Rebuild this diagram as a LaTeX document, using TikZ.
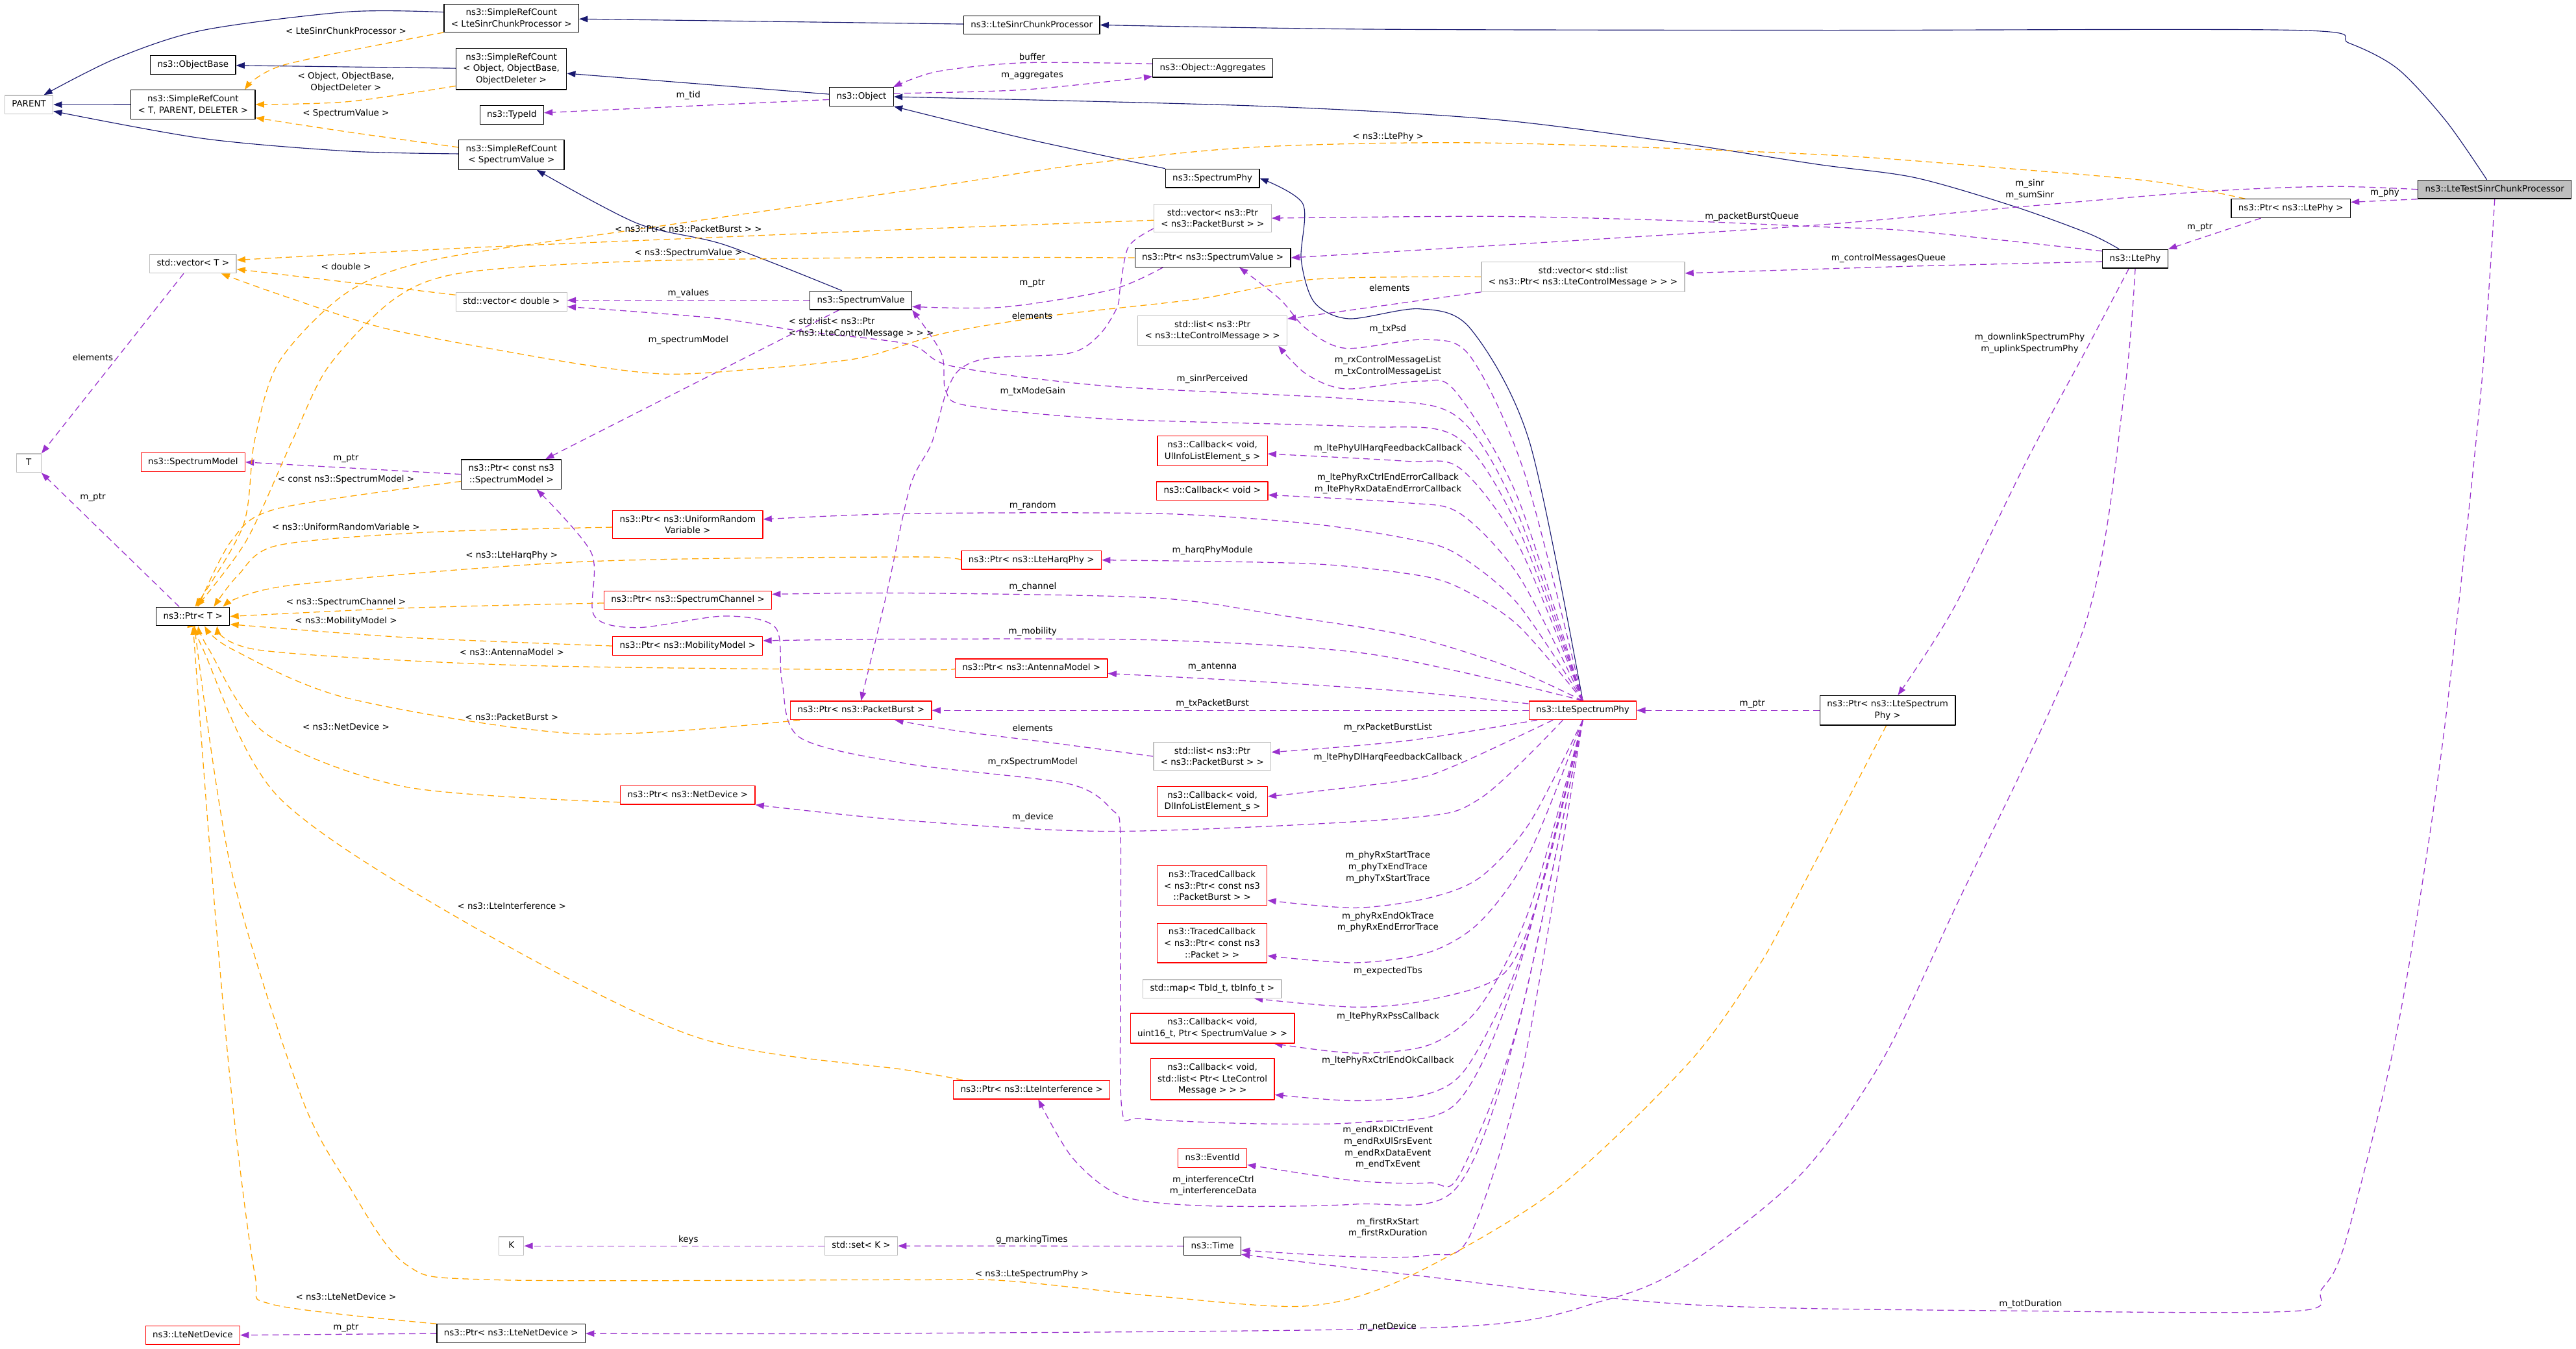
\documentclass[tikz,border=0pt]{standalone}
\usepackage{fontspec}
\setmainfont{DejaVu Sans}
\usetikzlibrary{arrows.meta}
\definecolor{inhblue}{HTML}{191970}
\definecolor{usepurple}{HTML}{9A32CD}
\definecolor{tplorange}{HTML}{FFA500}
\definecolor{extgray}{HTML}{BFBFBF}
\pgfdeclarelayer{edges}
\pgfsetlayers{edges,main}

\begin{document}
\begin{tikzpicture}[x=1mm,y=-1mm,>={Triangle[length=5.2mm,width=3.8mm]},
  font=\fontsize{15.1}{19.9}\selectfont,line join=round,
  box/.style={rectangle,fill=white,line width=0.5mm,inner xsep=4.3mm,inner ysep=2.95mm,align=center},
  one/.style={text height=4.1mm,text depth=1.3mm},
  doc/.style={box,draw=black},
  ext/.style={box,draw=extgray},
  trunc/.style={box,draw=red},
  focus/.style={box,draw=black,fill=extgray},
  inh/.style={->,draw=inhblue,line width=0.45mm},
  use/.style={->,draw=usepurple,line width=0.5mm,dash pattern=on 3.9mm off 2.5mm},
  tpl/.style={->,draw=tplorange,line width=0.5mm,dash pattern=on 3.9mm off 2.5mm},
  lbl/.style={inner sep=0pt,align=center}]
\useasboundingbox (0,0) rectangle (1568,821);

% classes
\node[ext,one] (parent) at (17.6,63.7) {PARENT};
\node[doc] (srcTPD) at (117.5,63.6) {ns3::SimpleRefCount\\< T, PARENT, DELETER >};
\node[doc,one] (objBase) at (117.5,39.5) {ns3::ObjectBase};
\node[ext,one] (vecT) at (117.5,160.6) {std::vector< T >};
\node[ext,one,minimum width=15mm] (tT) at (17.5,281.9) {T};
\node[trunc,one] (specModel) at (117.5,281.3) {ns3::SpectrumModel};
\node[doc,one] (ptrT) at (117.5,375.2) {ns3::Ptr< T >};
\node[trunc,one] (lteND) at (117.3,812.7) {ns3::LteNetDevice};
\node[doc] (srcLSCP) at (311.3,11) {ns3::SimpleRefCount\\< LteSinrChunkProcessor >};
\node[doc] (srcObj) at (311.2,42) {ns3::SimpleRefCount\\< Object, ObjectBase,\\ObjectDeleter >};
\node[doc,one] (typeId) at (311.5,70) {ns3::TypeId};
\node[doc] (srcSV) at (311.3,94.2) {ns3::SimpleRefCount\\< SpectrumValue >};
\node[ext,one] (vecDbl) at (311.3,183.7) {std::vector< double >};
\node[doc] (ptrSM) at (311.3,288.7) {ns3::Ptr< const ns3\\::SpectrumModel >};
\node[ext,one,minimum width=15mm] (kK) at (311.3,758.4) {K};
\node[doc,one] (ptrLND) at (311.1,811.7) {ns3::Ptr< ns3::LteNetDevice >};
\node[trunc] (ptrURV) at (418.6,319.3) {ns3::Ptr< ns3::UniformRandom\\Variable >};
\node[trunc,one] (ptrChan) at (418.7,365.3) {ns3::Ptr< ns3::SpectrumChannel >};
\node[trunc,one] (ptrMob) at (418.6,393.2) {ns3::Ptr< ns3::MobilityModel >};
\node[trunc,one] (ptrND) at (418.6,484) {ns3::Ptr< ns3::NetDevice >};
\node[doc,one] (obj) at (524.4,58.9) {ns3::Object};
\node[doc,one] (specVal) at (524,182.8) {ns3::SpectrumValue};
\node[trunc,one] (ptrPB) at (524.1,432.4) {ns3::Ptr< ns3::PacketBurst >};
\node[ext,one] (setK) at (524.2,758.4) {std::set< K >};
\node[doc,one] (lscp) at (628,15.2) {ns3::LteSinrChunkProcessor};
\node[trunc,one] (ptrHarq) at (627.8,340.9) {ns3::Ptr< ns3::LteHarqPhy >};
\node[trunc,one] (ptrAnt) at (627.8,406.7) {ns3::Ptr< ns3::AntennaModel >};
\node[trunc,one] (ptrIntf) at (628,663.3) {ns3::Ptr< ns3::LteInterference >};
\node[doc,one] (aggr) at (738.2,41.4) {ns3::Object::Aggregates};
\node[doc,one] (specPhy) at (738,108.5) {ns3::SpectrumPhy};
\node[ext] (vecPB) at (738.1,132.8) {std::vector< ns3::Ptr\\< ns3::PacketBurst > >};
\node[doc,one] (ptrSV) at (738.2,156.9) {ns3::Ptr< ns3::SpectrumValue >};
\node[ext] (lstLCM) at (738,201.3) {std::list< ns3::Ptr\\< ns3::LteControlMessage > >};
\node[trunc] (cbUl) at (738,274.5) {ns3::Callback< void,\\UlInfoListElement\_s >};
\node[trunc,one] (cbVoid) at (737.9,298.9) {ns3::Callback< void >};
\node[ext] (lstPB) at (737.9,460.4) {std::list< ns3::Ptr\\< ns3::PacketBurst > >};
\node[trunc] (cbDl) at (738,487.8) {ns3::Callback< void,\\DlInfoListElement\_s >};
\node[trunc] (tcPB) at (737.8,539) {ns3::TracedCallback\\< ns3::Ptr< const ns3\\::PacketBurst > >};
\node[trunc] (tcPkt) at (737.8,574) {ns3::TracedCallback\\< ns3::Ptr< const ns3\\::Packet > >};
\node[ext,one] (mapTb) at (737.9,601.9) {std::map< TbId\_t, tbInfo\_t >};
\node[trunc] (cbPss) at (738,625.9) {ns3::Callback< void,\\uint16\_t, Ptr< SpectrumValue > >};
\node[trunc] (cbCtrl) at (738,656.9) {ns3::Callback< void,\\std::list< Ptr< LteControl\\Message > > >};
\node[trunc,one] (evId) at (738,704.9) {ns3::EventId};
\node[doc,one] (time) at (738,758.5) {ns3::Time};
\node[ext] (vecLst) at (963.6,168.5) {std::vector< std::list\\< ns3::Ptr< ns3::LteControlMessage > > >};
\node[trunc,one] (lsp) at (963.4,432.4) {ns3::LteSpectrumPhy};
\node[doc] (ptrLSP) at (1149,432.4) {ns3::Ptr< ns3::LteSpectrum\\Phy >};
\node[doc,one] (ltePhy) at (1299.7,157.5) {ns3::LtePhy};
\node[doc,one] (ptrLtePhy) at (1394.4,126.9) {ns3::Ptr< ns3::LtePhy >};
\node[focus,one] (ltscp) at (1518.5,115.3) {ns3::LteTestSinrChunkProcessor};

\begin{pgfonlayer}{edges}
% inheritance
\draw[inh] (srcTPD) -- (parent);
\draw[inh] plot[smooth] coordinates {(srcLSCP.175) (211.6,7.2) (123.5,18.4) (70.6,35.6) (parent.33)};
\draw[inh] plot[smooth] coordinates {(srcSV.179) (211.6,92) (123.5,84.3) (parent.-15)};
\draw[inh] (srcObj) -- (objBase);
\draw[inh] (lscp) -- (srcLSCP);
\draw[inh] (obj) -- (srcObj);
\draw[inh] plot[smooth] coordinates {(specVal.153) (441,149) (388,136) (srcSV.-31)};
\draw[inh] plot[smooth] coordinates {(ltscp.129) (1489,73.8) (1459.6,42) (1430,26.3) (1397.7,18.4) (1106,18.4) (835,17.8) (lscp.east)};
\draw[inh] plot[smooth] coordinates {(specPhy.north west) (623.7,84.3) (obj.south east)};
\draw[inh] plot[smooth] coordinates {(ltePhy.149) (1271,142) (1224,125) (1165,108) (1106,100) (1011.7,85.6) (906,72.4) (764.8,64.5) (obj.east)};
\draw[inh] plot[smooth] coordinates {(lsp.north) (931,269) (895,200) (864,188) (821,194) (800,184) (792,158) (793,124) (specPhy.east)};

% members
\draw[use] plot[smooth] coordinates {(aggr.176) (623.7,38.2) (570.7,43.5) (obj.17)};
\draw[use] plot[smooth] coordinates {(obj.6) (623.7,54.6) (aggr.188)};
\draw[use] (obj.185) -- (typeId.4);
\draw[use] (specVal.west) -- (specVal.west -| vecDbl.east);
\draw[use] (vecLst.south west) -- (lstLCM.9);
\draw[use] plot[smooth] coordinates {(vecPB.190) (687,150) (682,174) (680,187) (669,204) (651,215) (602,218) (584,225) (575.6,240) (567,270) (554,296) (540,360) (ptrPB.north)};
\draw[use] plot[smooth] coordinates {(lstPB.west) (643.8,452.6) (583.4,445) (ptrPB.-16)};
\draw[use] (specVal.-156) -- (ptrSM.24);
\draw[use] plot[smooth] coordinates {(ptrSV.-169) (676,176.5) (610,187) (specVal.-7)};
\draw[use] (ptrSM.west) -- (specModel.east);
\draw[use] (ptrT.145) -- (tT.south east);
\draw[use] (vecT.-134) -- (tT.north east);
\draw[use] (ptrLND.west) -- (lteND.east);
\draw[use] (setK.west) -- (kK.east);
\draw[use] (time.west) -- (setK.east);
\draw[use] (ptrLSP.west) -- (lsp.east);
\draw[use] (ltscp.south west) -- (ptrLtePhy.6);
\draw[use] (ptrLtePhy.-162) -- (ltePhy.north east);
\draw[use] plot[smooth] coordinates {(ltscp.west) (1418,113.5) (1341.8,116.6) (1224,126.4) (1106,137) (941,147.5) (ptrSV.east)};
\draw[use] plot[smooth] coordinates {(ltePhy.167) (1165,140.7) (1106,138) (1011.7,134) (906,131.7) (vecPB.east)};
\draw[use] plot[smooth] coordinates {(ltePhy.185) (1165,162) (vecLst.2)};
\draw[use] plot[smooth] coordinates {(ltePhy.-123) (1268.7,215) (1234,279.7) (1189,370.6) (ptrLSP.56)};
\draw[use] plot[smooth] coordinates {(ltePhy.south) (1293,239.5) (1269,380.6) (1189,555) (1144.8,647) (1096,715) (1027,770) (976,791.7) (885.7,807.6) (553,811.6) (ptrLND.east)};
\draw[use] plot[smooth] coordinates {(ltscp.south) (1510,239.5) (1489,434.6) (1472,553) (1455,647) (1427,758) (1413,785) (1398,798) (1236,798) (1027,794) (855.5,775.6) (time.-16)};
% LteSpectrumPhy members, upper fan
\draw[use] plot[smooth] coordinates {(lsp.north) (928,288.1) (895,217) (867.6,206.7) (819,212) (795,200) (779,182) (ptrSV.-20)};
\draw[use] plot[smooth] coordinates {(lsp.north) (923.4,301.9) (885.7,238) (864.5,232) (819,236.7) (795,227.6) (lstLCM.-13)};
\draw[use] plot[smooth] coordinates {(lsp.north) (923.5,311.8) (886,253) (825,243) (674,235) (580,223) (553,209.5) (487.6,201.5) (434.6,193.6) (vecDbl.-5)};
\draw[use] plot[smooth] coordinates {(lsp.north) (923.5,320.1) (886,265.6) (825,259.6) (674,255) (589.5,247) (575.7,238) (573,215) (specVal.south east)};
\draw[use] plot[smooth] coordinates {(lsp.north) (924.8,332.9) (888.6,285) (855.5,280.7) (cbUl.-3)};
\draw[use] plot[smooth] coordinates {(lsp.north) (924.8,351.1) (888.6,312.5) (855.5,306) (cbVoid.-4)};
\draw[use] plot[smooth] coordinates {(lsp.north) (923.4,367) (885.7,336.6) (855.5,327.6) (795,318.5) (704,312.6) (553,312.6) (ptrURV.4)};
\draw[use] plot[smooth] coordinates {(lsp.north) (923.4,380.1) (885.7,356.5) (855.5,349) (795,343) (ptrHarq.east)};
\draw[use] plot[smooth] coordinates {(lsp.north) (916,405) (855.5,386.7) (780,374.6) (704,364) (553,361) (ptrChan.4)};
\draw[use] plot[smooth] coordinates {(lsp.north) (916,415) (825.5,397) (704,389.6) (553,389) (ptrMob.4)};
\draw[use] plot[smooth] coordinates {(lsp.173) (855.5,420.8) (764.7,414.8) (ptrAnt.-4)};
\draw[use] (lsp.west) -- (ptrPB.east);
% LteSpectrumPhy members, lower fan
\draw[use] plot[smooth] coordinates {(lsp.-168) (855.5,451) (lstPB.4)};
\draw[use] plot[smooth] coordinates {(lsp.-162) (885.7,466) (855.5,475) (cbDl.5)};
\draw[use] plot[smooth] coordinates {(lsp.-154) (901,486) (855.5,498) (680,506) (553,499.5) (ptrND.south east)};
\draw[use] plot[smooth] coordinates {(lsp.south) (931,501) (901,534) (870,546.5) (825,552.6) (tcPB.-15)};
\draw[use] plot[smooth] coordinates {(lsp.south) (931,519.2) (901,561) (870,579.6) (825,586) (tcPkt.-13)};
\draw[use] plot[smooth] coordinates {(lsp.south) (938.5,539.6) (916,592) (870,608.6) (825,613) (mapTb.-13)};
\draw[use] plot[smooth] coordinates {(lsp.south) (931,553.1) (901,612.4) (870,636) (825,641) (cbPss.-14)};
\draw[use] plot[smooth] coordinates {(lsp.south) (927.9,575.8) (894.8,646.8) (870,665.6) (825,670) (cbCtrl.-14)};
\draw[use] plot[smooth] coordinates {(lsp.south) (923.5,592.4) (886,672) (830,683) (765,684) (695,681) (683,676) (682,600) (682,508) (677,493) (650,477) (553,465) (487,449) (476,415) (472,382) (441,375) (388,382) (361.6,374.6) (360,336.6) (ptrSM.-31)};
\draw[use] plot[smooth] coordinates {(lsp.south) (924.8,620.6) (888.6,714.7) (870,720) (825,718.7) (evId.-11)};
\draw[use] plot[smooth] coordinates {(lsp.south) (923.4,626.8) (885.7,724) (825,733) (734.5,734) (683,728) (653,705) (ptrIntf.-56)};
\draw[use] plot[smooth] coordinates {(lsp.south) (927.9,645.2) (894.8,752) (870,764) (825,765) (time.-8)};

% template instances
\draw[tpl] plot[smooth] coordinates {(srcLSCP.south west) (172.9,39.5) (srcTPD.16)};
\draw[tpl] plot[smooth] coordinates {(srcObj.197) (211.6,61.9) (srcTPD.east)};
\draw[tpl] plot[smooth] coordinates {(srcSV.172) (211.6,80.3) (srcTPD.-12)};
\draw[tpl] plot[smooth] coordinates {(vecPB.182) (553,139.6) (423,145) (282,151) (vecT.5)};
\draw[tpl] (vecDbl.173) -- (vecT.-7);
\draw[tpl] plot[smooth] coordinates {(vecLst.west) (800,170) (729,182) (641,192) (574,203) (523,218) (458.6,224.7) (405.7,227.7) (352.8,221.6) (268,206.6) (225.8,197.6) (165.8,177.8) (vecT.-19)};
\draw[tpl] plot[smooth] coordinates {(ptrLtePhy.168) (1312,110.6) (1224,102.7) (1106,94) (906,87) (765,89.5) (659,100) (553,115.9) (388,139.6) (264.6,158) (211.6,177.8) (170,220) (155,268) (148,320) (ptrT.78)};
\draw[tpl] plot[smooth] coordinates {(ptrSV.west) (553,156.7) (388,159) (282,166) (240,182) (200,223) (178,268) (150,329) (ptrT.70)};
\draw[tpl] plot[smooth] coordinates {(ptrSM.188) (169.3,309.5) (141,329) (ptrT.62)};
\draw[tpl] plot[smooth] coordinates {(ptrURV.182) (260,324) (169,332) (145,350) (ptrT.25)};
\draw[tpl] plot[smooth] coordinates {(ptrHarq.west) (553,339) (352.8,342) (176,356.4) (ptrT.18)};
\draw[tpl] plot[smooth] coordinates {(ptrChan.182) (250,370) (ptrT.east)};
\draw[tpl] plot[smooth] coordinates {(ptrMob.west) (247,388) (ptrT.-12)};
\draw[tpl] plot[smooth] coordinates {(ptrAnt.west) (553,407.8) (317.5,405) (158.7,395.8) (ptrT.-22)};
\draw[tpl] plot[smooth] coordinates {(ptrPB.-171) (352.8,446.7) (211.6,425) (141,395) (ptrT.-40)};
\draw[tpl] plot[smooth] coordinates {(ptrND.186) (247,479) (162,446.7) (127,395) (ptrT.-62)};
\draw[tpl] plot[smooth] coordinates {(ptrIntf.172) (553,651.5) (423,631) (282,560.6) (169,484.6) (123.5,395) (ptrT.-72)};
\draw[tpl] plot[smooth] coordinates {(ptrLSP.-95) (1089,555) (1067.5,592.6) (1027,648) (946,725) (855.5,778) (795,795) (704,789) (613.6,779.7) (553,779) (300,779) (247,769.6) (211.6,720.6) (183,666.5) (141,530.6) (ptrT.-82)};
\draw[tpl] plot[smooth] coordinates {(ptrLND.north west) (165.8,794) (155,775) (141,666.5) (128,520) (ptrT.south)};
\end{pgfonlayer}

% edge labels
\node[lbl] at (210.6,18.7) {< LteSinrChunkProcessor >};
\node[lbl] at (210.6,50) {< Object, ObjectBase,\\ObjectDeleter >};
\node[lbl] at (210.6,69) {< SpectrumValue >};
\node[lbl] at (628.3,34.5) {buffer};
\node[lbl] at (628.3,46) {m\_aggregates};
\node[lbl] at (419,58) {m\_tid};
\node[lbl] at (844.9,83.4) {< ns3::LtePhy >};
\node[lbl] at (419,139.2) {< ns3::Ptr< ns3::PacketBurst > >};
\node[lbl] at (419,154) {< ns3::SpectrumValue >};
\node[lbl] at (210.6,162.4) {< double >};
\node[lbl] at (419,178.7) {m\_values};
\node[lbl] at (628.3,172.5) {m\_ptr};
\node[lbl] at (628.3,192.3) {elements};
\node[lbl] at (845.8,175.2) {elements};
\node[lbl,anchor=west,align=left] at (480,199.6) {< std::list< ns3::Ptr\\< ns3::LteControlMessage > > >};
\node[lbl] at (419,206.9) {m\_spectrumModel};
\node[lbl] at (56.5,217.5) {elements};
\node[lbl] at (844.8,200.5) {m\_txPsd};
\node[lbl] at (844.8,222.8) {m\_rxControlMessageList\\m\_txControlMessageList};
\node[lbl] at (738,230.7) {m\_sinrPerceived};
\node[lbl] at (628.6,238.3) {m\_txModeGain};
\node[lbl] at (844.8,272.9) {m\_ltePhyUlHarqFeedbackCallback};
\node[lbl] at (844.8,294.5) {m\_ltePhyRxCtrlEndErrorCallback\\m\_ltePhyRxDataEndErrorCallback};
\node[lbl] at (210.6,279.2) {m\_ptr};
\node[lbl] at (210.6,291.8) {< const ns3::SpectrumModel >};
\node[lbl] at (56.5,303) {m\_ptr};
\node[lbl] at (628.6,307.7) {m\_random};
\node[lbl] at (210.6,320.5) {< ns3::UniformRandomVariable >};
\node[lbl] at (738,335) {m\_harqPhyModule};
\node[lbl] at (311.5,338) {< ns3::LteHarqPhy >};
\node[lbl] at (628.6,357.2) {m\_channel};
\node[lbl] at (210.6,366.6) {< ns3::SpectrumChannel >};
\node[lbl] at (210.6,378) {< ns3::MobilityModel >};
\node[lbl] at (628.6,384.4) {m\_mobility};
\node[lbl] at (311.5,397) {< ns3::AntennaModel >};
\node[lbl] at (738,406) {m\_antenna};
\node[lbl] at (738,428.4) {m\_txPacketBurst};
\node[lbl] at (311.5,436.3) {< ns3::PacketBurst >};
\node[lbl] at (210.6,442.5) {< ns3::NetDevice >};
\node[lbl] at (628.6,443) {elements};
\node[lbl] at (844.8,442.8) {m\_rxPacketBurstList};
\node[lbl] at (628.6,464) {m\_rxSpectrumModel};
\node[lbl] at (844.8,461.2) {m\_ltePhyDlHarqFeedbackCallback};
\node[lbl] at (628.6,497.3) {m\_device};
\node[lbl] at (844.8,528) {m\_phyRxStartTrace\\m\_phyTxEndTrace\\m\_phyTxStartTrace};
\node[lbl] at (311.5,551.6) {< ns3::LteInterference >};
\node[lbl] at (844.8,561.3) {m\_phyRxEndOkTrace\\m\_phyRxEndErrorTrace};
\node[lbl] at (844.8,591) {m\_expectedTbs};
\node[lbl] at (844.8,618.7) {m\_ltePhyRxPssCallback};
\node[lbl] at (844.8,645.6) {m\_ltePhyRxCtrlEndOkCallback};
\node[lbl] at (844.8,698.5) {m\_endRxDlCtrlEvent\\m\_endRxUlSrsEvent\\m\_endRxDataEvent\\m\_endTxEvent};
\node[lbl] at (738.5,721.7) {m\_interferenceCtrl\\m\_interferenceData};
\node[lbl] at (844.8,747.4) {m\_firstRxStart\\m\_firstRxDuration};
\node[lbl] at (419,754.7) {keys};
\node[lbl] at (628,754.7) {g\_markingTimes};
\node[lbl] at (628,775.5) {< ns3::LteSpectrumPhy >};
\node[lbl] at (210.6,789.5) {< ns3::LteNetDevice >};
\node[lbl] at (1236,794) {m\_totDuration};
\node[lbl] at (210.6,808.4) {m\_ptr};
\node[lbl] at (844.8,807.6) {m\_netDevice};
\node[lbl] at (1066.4,132) {m\_packetBurstQueue};
\node[lbl] at (1235.5,115.3) {m\_sinr\\m\_sumSinr};
\node[lbl] at (1451.6,117.2) {m\_phy};
\node[lbl] at (1339,138.5) {m\_ptr};
\node[lbl] at (1149.5,157.3) {m\_controlMessagesQueue};
\node[lbl] at (1235.5,209.1) {m\_downlinkSpectrumPhy\\m\_uplinkSpectrumPhy};
\node[lbl] at (1066.6,428.4) {m\_ptr};
\end{tikzpicture}
\end{document}
